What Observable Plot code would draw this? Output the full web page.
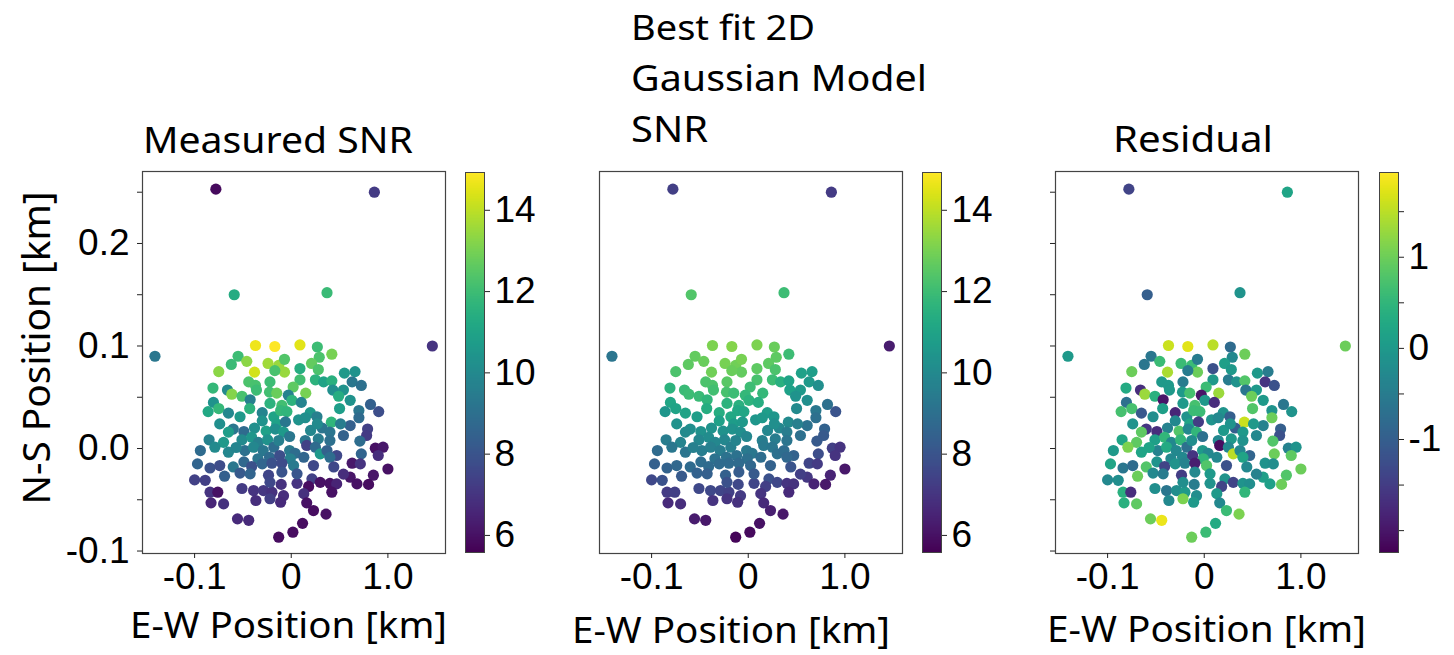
<!DOCTYPE html>
<html>
<head>
<meta charset="utf-8">
<script src="https://cdn.jsdelivr.net/npm/d3@7"></script>
<script src="https://cdn.jsdelivr.net/npm/@observablehq/plot@0.6"></script>
<style>
html, body { margin: 0; padding: 0; background: #fff; }
#fig { position: relative; width: 1454px; height: 655px; overflow: hidden; background: #fff; }
#fig > svg { position: absolute; top: 0; }
</style>
</head>
<body>
<div id="fig"></div>
<script>
// ---- data: E-W / N-S positions (same stations in all three panels) ----
const xs = [-0.078,0.086,-0.059,0.037,-0.141,0.146,-0.037,-0.017,0.009,0.027,0.042,-0.055,0.029,-0.046,-0.062,-0.024,-0.013,-0.007,0.021,-0.075,-0.038,-0.007,-0.017,0.009,0.028,0.055,0.066,-0.044,-0.037,-0.022,0.009,0.025,0.0335,0.042,0.063,0.0725,-0.081,-0.066,-0.0615,-0.036,-0.0225,-0.015,0.002,0.015,-0.003,0.043,0.054,-0.051,-0.0425,-0.022,-0.0097,0.0007,0.0104,0.049,0.061,0.082,0.0905,-0.0805,-0.075,-0.086,-0.065,-0.043,-0.030,-0.018,-0.011,-0.0045,0.0197,0.0266,0.050,0.070,0.070,0.0415,-0.030,-0.015,-0.006,0.0076,0.0145,0.032,-0.060,-0.065,-0.049,-0.038,-0.026,-0.0166,-0.008,0.020,0.040,0.061,0.079,0.054,0.078,-0.085,-0.070,-0.051,-0.041,-0.034,-0.0245,-0.0017,0.0145,0.028,0.040,0.071,-0.094,-0.079,-0.048,-0.039,-0.029,-0.018,-0.0017,0.004,0.016,0.025,0.030,0.037,0.047,0.040,0.0725,0.087,0.095,0.090,-0.065,-0.0345,-0.0225,-0.012,-0.001,-0.097,-0.084,-0.074,-0.060,-0.049,-0.041,-0.030,-0.020,-0.0097,0.0024,0.023,0.044,0.063,0.100,-0.100,-0.089,-0.069,-0.053,-0.0425,-0.0235,0.0214,0.030,0.061,0.085,-0.084,-0.076,-0.051,-0.039,-0.0287,-0.020,-0.0104,-0.008,0.006,0.018,0.013,0.040,0.047,0.042,0.068,0.080,-0.083,-0.070,-0.0366,-0.022,-0.011,0.016,0.023,0.036,-0.0556,-0.044,0.0117,0.0017,-0.013,-0.057,-0.013,0.013,-0.0097,0.006,0.051,0.027,-0.053,-0.074,-0.022,0.054,0.0715];
const ys = [0.253,0.250,0.150,0.152,0.090,0.100,0.1005,0.0995,0.101,0.099,0.092,0.090,0.089,0.085,0.082,0.083,0.081,0.087,0.083,0.075,0.0745,0.0745,0.076,0.078,0.077,0.0735,0.075,0.065,0.0615,0.065,0.067,0.067,0.065,0.066,0.065,0.0615,0.059,0.057,0.053,0.057,0.055,0.054,0.060,0.054,0.052,0.057,0.057,0.051,0.0475,0.044,0.042,0.047,0.045,0.051,0.047,0.043,0.036,0.045,0.039,0.036,0.0345,0.039,0.035,0.031,0.037,0.036,0.035,0.031,0.039,0.037,0.030,0.0257,0.027,0.024,0.026,0.028,0.030,0.020,0.019,0.016,0.0166,0.020,0.017,0.019,0.016,0.0176,0.016,0.0224,0.019,0.0127,0.0127,0.0085,0.006,0.0085,0.011,0.006,0.0085,0.0117,0.0078,0.0094,0.0078,0.0072,-0.002,0.0013,-0.002,0.0013,-0.002,0.0013,-0.002,-0.0046,0.003,0.0013,-0.0052,-0.002,-0.0068,-0.0085,-0.0052,0.0003,0.0013,-0.0068,-0.0036,-0.010,-0.0085,-0.0068,-0.010,-0.015,-0.019,-0.0166,-0.018,-0.013,-0.0176,-0.015,-0.0143,-0.0143,-0.0166,-0.0166,-0.018,-0.0143,-0.020,-0.0306,-0.031,-0.027,-0.024,-0.0247,-0.026,-0.0296,-0.033,-0.028,-0.026,-0.0426,-0.0426,-0.039,-0.041,-0.041,-0.0426,-0.035,-0.046,-0.034,-0.037,-0.044,-0.034,-0.0345,-0.0426,-0.0345,-0.035,-0.053,-0.054,-0.0507,-0.049,-0.0524,-0.053,-0.0605,-0.064,-0.0686,-0.070,-0.073,-0.0816,-0.0865,0.001,0.0078,-0.0085,-0.023,-0.0247,0.024,0.024,0.031,0.024,-0.033,-0.025,-0.015];
// measured SNR
const measuredSNR = [5.8,7.2,11.3,11.9,9.3,7.0,14.7,14.9,14.5,12.0,13.0,12.0,12.3,13.3,11.9,13.6,13.5,12.4,12.7,13.3,14.3,13.5,12.2,11.4,12.3,10.6,10.3,12.3,12.2,12.0,12.1,11.6,11.0,11.5,9.3,9.0,11.8,10.0,13.2,12.0,12.1,12.8,12.6,13.0,9.7,10.2,10.4,12.2,9.6,11.6,12.1,11.6,9.8,11.4,10.3,8.4,7.8,10.3,11.8,11.2,9.9,11.6,9.8,11.0,11.8,11.7,10.6,9.6,10.8,9.2,8.8,11.7,10.4,10.9,9.3,10.4,10.2,9.2,9.3,10.8,8.8,10.2,10.9,10.2,10.6,9.9,9.2,8.4,7.4,8.5,7.2,9.7,10.6,10.0,10.5,9.6,10.3,9.3,9.3,9.5,9.0,8.9,8.8,10.0,9.0,9.9,9.3,8.9,9.4,8.9,7.4,8.8,10.6,8.5,7.6,8.9,8.6,6.0,6.2,6.8,9.9,9.2,8.8,7.8,9.6,8.6,7.9,7.7,9.3,8.7,7.9,8.6,7.9,7.7,9.4,7.6,7.6,6.2,6.0,7.4,7.3,8.4,8.2,8.6,7.5,7.4,6.0,6.1,6.1,7.0,6.0,7.2,7.0,7.1,6.9,6.9,6.8,7.0,5.9,6.9,6.0,6.5,6.0,6.0,5.9,6.6,6.9,6.8,7.3,6.7,6.0,5.9,6.0,6.7,6.7,5.9,5.9,5.9,9.8,9.6,8.6,8.0,8.1,9.5,10.0,10.6,10.2,7.6,6.8,7.0];
// best fit 2D Gaussian model SNR
const modelSNR = [7.3,7.2,12.4,12.0,9.2,6.3,13.1,13.2,13.1,12.8,12.0,12.7,12.6,12.8,12.6,13.0,12.9,13.0,12.6,12.3,12.9,12.7,12.8,12.6,12.3,10.9,10.8,12.3,12.3,12.5,12.2,12.0,11.5,11.0,10.6,10.2,11.6,11.9,12.0,12.1,12.2,12.0,12.0,11.8,11.8,10.9,10.6,11.9,11.7,11.6,11.5,11.6,11.4,10.4,10.2,9.0,8.0,11.1,11.0,10.5,11.0,11.4,11.4,11.2,11.2,11.1,10.8,10.5,10.0,9.3,9.0,10.0,10.9,10.7,10.6,10.5,10.6,9.9,10.2,10.0,10.3,10.4,10.3,10.3,10.2,9.9,9.5,9.1,8.5,9.0,8.2,9.5,9.8,9.9,10.1,9.9,9.9,9.9,9.6,9.5,9.2,8.2,8.8,9.3,9.5,9.6,9.5,9.6,9.4,9.3,9.4,9.3,9.0,8.9,8.5,8.7,7.8,7.3,7.0,7.0,9.2,9.1,9.1,9.1,9.0,8.4,8.5,8.7,8.8,8.9,8.8,8.8,8.8,8.8,8.7,8.5,8.0,7.5,6.2,7.6,7.9,8.2,8.5,8.4,8.4,7.9,7.6,7.1,6.5,7.2,7.3,7.6,7.6,7.5,7.4,7.6,7.2,7.5,7.3,7.0,7.0,6.9,6.7,6.5,6.2,6.7,6.8,7.0,7.0,6.9,6.7,6.4,6.2,6.3,6.2,6.0,5.8,5.7,9.6,9.8,8.9,8.3,8.2,9.6,10.2,10.8,10.3,7.9,7.3,7.2];
// residual (measured - model)
const residual = [-1.4,0.2,-1.0,-0.1,0.0,1.0,1.6,1.75,1.5,-0.8,1.0,-0.6,-0.3,0.6,-0.6,0.6,0.6,-0.5,0.1,1.0,1.4,1.0,-0.5,-1.2,0.0,0.0,-0.5,0.0,0.0,-0.5,0.0,-0.5,-0.1,0.8,-1.6,-1.2,0.3,-1.7,1.3,0.0,0.0,0.7,0.6,1.3,-2.0,-0.6,0.0,0.4,-2.0,0.0,0.7,0.0,-1.7,1.0,0.0,-0.6,-0.1,-0.7,0.7,0.7,-1.1,0.1,-1.8,-0.1,0.6,0.6,-0.1,-1.0,0.8,-0.1,1.0,1.6,-0.3,0.2,-1.5,-0.1,-0.3,-1.0,-1.6,0.9,-1.7,-0.4,0.8,-0.3,0.5,0.0,0.0,-0.4,-1.0,-0.3,-1.2,0.2,0.9,0.1,0.5,-0.3,0.5,-0.7,-0.3,0.0,-0.1,0.8,0.0,1.1,-0.4,0.3,-0.3,-0.7,0.0,-0.3,-2.1,-0.3,1.5,-0.3,-0.9,0.2,1.0,-0.4,-0.1,0.9,0.2,-0.3,-0.3,-1.6,0.5,0.2,-0.6,-0.8,0.8,-0.1,-1.4,-0.1,-0.4,-1.9,0.8,-1.2,-0.3,-0.1,1.0,-0.3,-0.2,1.0,-0.3,-0.5,-1.5,-0.1,-1.4,0.1,0.8,0.4,-1.7,-0.2,-0.6,-0.2,0.0,-0.5,-0.2,-0.1,-1.4,0.0,-0.1,-0.2,0.5,0.1,1.0,0.4,0.9,-0.3,1.1,0.0,-0.3,0.6,1.1,1.0,1.8,0.3,0.6,1.0,0.2,-0.2,-0.3,-0.3,0.0,0.0,-0.1,-0.2,-0.1,-0.2,-0.4,-0.2];

// ---- tick labels ----
const xTicks = [-0.1, 0, 0.1];
const xTickLabels = ["-0.1", "0", "1.0"];
const yTicks = [-0.1, -0.05, 0, 0.05, 0.1, 0.15, 0.2, 0.25];
const yTickLabels = ["-0.1", "", "0.0", "", "0.1", "", "0.2", ""];
const snrTicks = [6, 8, 10, 12, 14];
const snrTickLabels = ["6", "8", "10", "12", "14"];
const resTicks = [-2, -1.5, -1, -0.5, 0, 0.5, 1, 1.5];
const resTickLabels = ["", "", "-1", "", "0", "", "1", ""];

// ---- texts ----
const panelTitles = [["Measured SNR"], ["Best fit 2D", "Gaussian Model", "SNR"], ["Residual"]];
const xLabel = "E-W Position [km]";
const yLabel = "N-S Position [km]";

// ---- scale domains ----
const xDomain = [-0.1539, 0.1596];
const yDomain = [-0.1024, 0.2702];
const snrDomain = [5.58, 14.93];
const resDomain = [-2.24, 1.93];

const fig = document.getElementById("fig");
const TICKFONT = "'Liberation Sans', Arial, sans-serif";
const LABELFONT = "'Noto Sans', 'Open Sans', sans-serif";
const INK = "#222";

const lut = (ticks, labels) => { const m = new Map(ticks.map((t, i) => [t, labels[i]])); return d => m.get(d) ?? ""; };

function panel(values, domain, left, width, mLeft, yMode) {
  const data = xs.map((x, i) => ({x, y: ys[i], v: values[i]}));
  const marks = [
    Plot.dot(data, {x: "x", y: "y", fill: "v", r: 5.6}),
    Plot.frame({stroke: "#444", strokeWidth: 1.2}),
    Plot.axisX({ticks: xTicks, tickFormat: lut(xTicks, xTickLabels), tickSize: 5, tickPadding: 4,
                fontSize: 37, fontFamily: TICKFONT, label: null, stroke: INK, fill: "#000"})
  ];
  if (yMode === "labels") {
    marks.push(Plot.axisY({ticks: yTicks, tickFormat: lut(yTicks, yTickLabels), tickSize: 5, tickPadding: 8,
                           fontSize: 37, fontFamily: TICKFONT, label: null, stroke: INK, fill: "#000"}));
  } else if (yMode === "ticks") {
    marks.push(Plot.axisY({ticks: yTicks, tickFormat: () => "", tickSize: 5, label: null, stroke: INK}));
  }
  const svg = Plot.plot({
    width, height: 655,
    marginLeft: mLeft, marginRight: width - mLeft - 303, marginTop: 171, marginBottom: 102,
    x: {domain: xDomain},
    y: {domain: yDomain, axis: yMode ? undefined : null},
    color: {type: "linear", scheme: "viridis", domain},
    style: {overflow: "visible", background: "transparent", fontFamily: TICKFONT, color: "#000"},
    marks
  });
  svg.style.left = left + "px";
  fig.appendChild(svg);
}

function colorbar(domain, ticks, labels, left) {
  const svg = Plot.plot({
    width: 19 + 80, height: 655,
    marginLeft: 0, marginRight: 80, marginTop: 172, marginBottom: 103,
    x: {domain: [0, 1], axis: null},
    y: {domain},
    color: {type: "linear", scheme: "viridis", domain},
    style: {overflow: "visible", background: "transparent", fontFamily: TICKFONT, color: "#000"},
    marks: [
      Plot.raster({x1: 0, x2: 1, y1: domain[0], y2: domain[1], width: 1, height: 400, fill: (x, y) => y, imageRendering: "auto"}),
      Plot.frame({stroke: "#444", strokeWidth: 1}),
      Plot.axisY({anchor: "right", ticks, tickFormat: lut(ticks, labels), tickSize: 5, tickPadding: 5,
                  fontSize: 37, fontFamily: TICKFONT, label: null, stroke: INK, fill: "#000"})
    ]
  });
  svg.style.left = left + "px";
  fig.appendChild(svg);
}

panel(measuredSNR, snrDomain, 0, 455, 142, "labels");
panel(modelSNR, snrDomain, 590, 320, 9, null);
panel(residual, resDomain, 1040, 330, 15, "ticks");
colorbar(snrDomain, snrTicks, snrTickLabels, 465);
colorbar(snrDomain, snrTicks, snrTickLabels, 922);
colorbar(resDomain, resTicks, resTickLabels, 1379);

// ---- titles and axis labels ----
const overlay = d3.create("svg").attr("width", 1454).attr("height", 655)
  .style("left", "0px").style("pointer-events", "none")
  .attr("font-family", LABELFONT).attr("fill", "#000");
const textSpecs = [
  {t: panelTitles[0][0], x: 143, y: 153, w: 270, fs: 36},
  {t: panelTitles[1][0], x: 631, y: 40, w: 184, fs: 35},
  {t: panelTitles[1][1], x: 631, y: 91, w: 296, fs: 36},
  {t: panelTitles[1][2], x: 631, y: 142, w: 77, fs: 36},
  {t: panelTitles[2][0], x: 1113, y: 152, w: 160, fs: 36},
  {t: xLabel, x: 130, y: 638, w: 317, fs: 37},
  {t: xLabel, x: 572, y: 643, w: 318, fs: 37},
  {t: xLabel, x: 1047, y: 642, w: 319, fs: 37}
];
for (const s of textSpecs) {
  overlay.append("text").attr("x", s.x).attr("y", s.y).attr("font-size", s.fs)
    .attr("textLength", s.w).attr("lengthAdjust", "spacingAndGlyphs").text(s.t);
}
overlay.append("text").attr("transform", "translate(50,348) rotate(-90)")
  .attr("text-anchor", "middle").attr("font-size", 38)
  .attr("textLength", 313).attr("lengthAdjust", "spacingAndGlyphs").text(yLabel);
fig.appendChild(overlay.node());
</script>
</body>
</html>
